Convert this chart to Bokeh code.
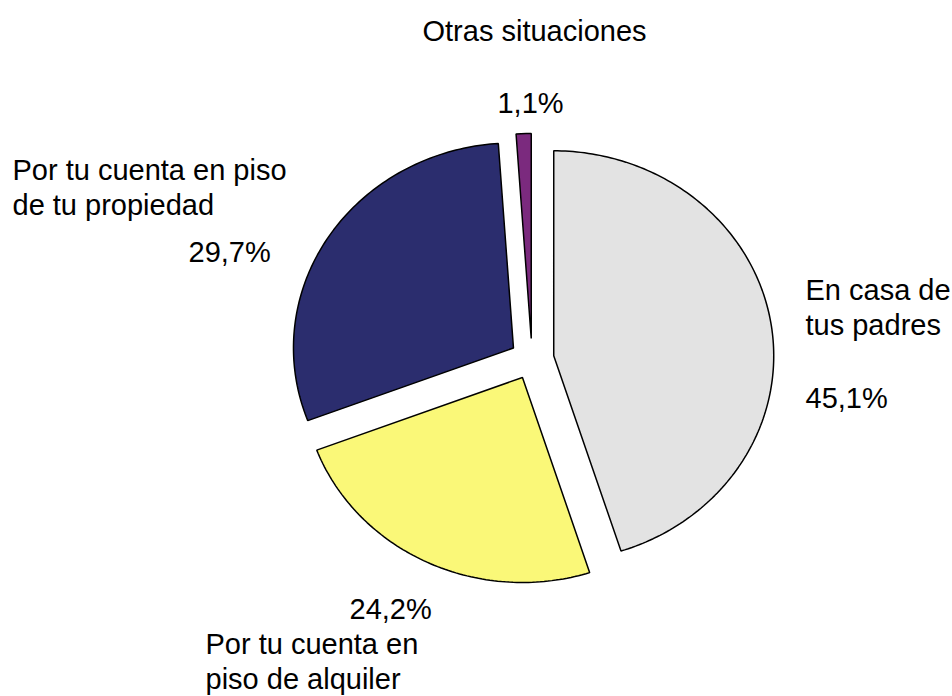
import numpy as np
from bokeh.plotting import figure
from bokeh.models import Range1d
from bokeh.core.properties import value
from bokeh.embed import file_html
from bokeh.resources import INLINE

# ---- data ----
categories = ["En casa de tus padres", "Por tu cuenta en piso de alquiler",
              "Por tu cuenta en piso de tu propiedad", "Otras situaciones"]
percent = [45.1, 24.2, 29.7, 1.1]
pct_labels = ["45,1%", "24,2%", "29,7%", "1,1%"]
colors = ["#E3E3E3", "#FAF878", "#2B2D6E", "#7B2A7E"]

# ---- layout constants ----
W, H = 952, 696
CX, CY = 531.5, 358.5
RX, RY = 220, 205
EXPLODE = 0.1

p = figure(width=W, height=H, output_backend="svg", toolbar_location=None,
           x_range=Range1d(0, W), y_range=Range1d(H, 0),
           min_border=0, outline_line_color=None)
p.axis.visible = False
p.grid.visible = False
p.background_fill_color = "white"

total = sum(percent)
xs, ys = [], []
start = 0.0
for v in percent:
    ang = v / total * 2 * np.pi
    end = start + ang
    mid = (start + end) / 2
    ox = CX + EXPLODE * RX * np.sin(mid)
    oy = CY - EXPLODE * RY * np.cos(mid)
    n = max(4, int(ang / (2 * np.pi) * 360))
    t = np.linspace(start, end, n)
    px = np.concatenate([[ox], ox + RX * np.sin(t)])
    py = np.concatenate([[oy], oy - RY * np.cos(t)])
    xs.append(list(px))
    ys.append(list(py))
    start = end

p.patches(xs, ys, fill_color=colors, line_color="black", line_width=1.5)

font = value("Liberation Sans")
FS = "29px"

def txt(x, y, s, align):
    p.text(x=[x], y=[y], text=[s], text_font=font, text_font_size=FS,
           text_align=align, text_baseline="middle", text_color="black")

name_lines = {
    0: ["En casa de", "tus padres"],
    1: ["Por tu cuenta en", "piso de alquiler"],
    2: ["Por tu cuenta en piso", "de tu propiedad"],
    3: ["Otras situaciones"],
}
LH = 35
for i, s in enumerate(name_lines[0]):
    txt(805, 289 + i * LH, s, "left")
txt(805, 397, pct_labels[0], "left")
txt(349, 608, pct_labels[1], "left")
for i, s in enumerate(name_lines[1]):
    txt(205, 643 + i * LH, s, "left")
for i, s in enumerate(name_lines[2]):
    txt(12, 169 + i * LH, s, "left")
txt(188, 251, pct_labels[2], "left")
txt(534, 30, name_lines[3][0], "center")
txt(530, 102, pct_labels[3], "center")

open("out.html", "w").write(file_html(p, INLINE))
